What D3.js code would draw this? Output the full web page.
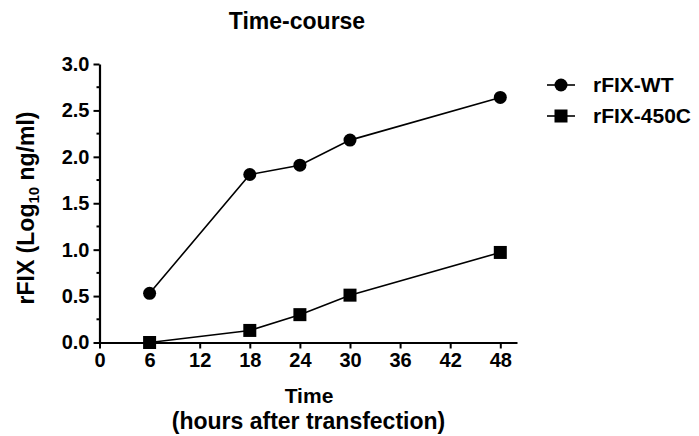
<!DOCTYPE html>
<html>
<head>
<meta charset="utf-8">
<script src="https://cdn.jsdelivr.net/npm/d3@7"></script>
<style>
  body { margin: 0; background: #fff; }
  svg { display: block; font-family: "Liberation Sans", Arial, sans-serif; font-weight: bold; }
</style>
</head>
<body>
<svg id="canvas" width="699" height="436"></svg>
<script>
const hours = [6, 18, 24, 30, 48]
const wt = [0.53, 1.81, 1.91, 2.18, 2.64]
const mut = [0.0, 0.13, 0.30, 0.51, 0.97]
const xTicks = [0, 6, 12, 18, 24, 30, 36, 42, 48]
const yTicks = [0, 0.5, 1.0, 1.5, 2.0, 2.5, 3.0]
const yMinor = [0.25, 0.75, 1.25, 1.75, 2.25, 2.75]
const seriesNames = ["rFIX-WT", "rFIX-450C"]

const svg = d3.select("#canvas")

const x = d3.scaleLinear().domain([0, 50]).range([99.5, 517])
const y = d3.scaleLinear().domain([0, 3]).range([342.5, 64])

// axes
const xAxis = svg.append("g")
  .attr("transform", "translate(0," + y(0) + ")")
  .call(d3.axisBottom(x).tickValues(xTicks).tickSize(6).tickPadding(4).tickSizeOuter(0))
xAxis.select(".domain").attr("stroke-width", 2.2)
xAxis.selectAll(".tick line").attr("stroke-width", 2)
xAxis.selectAll("text").attr("font-size", 20).attr("font-family", null).attr("fill", "#000")

const yAxis = svg.append("g")
  .attr("transform", "translate(" + x(0) + ",0)")
  .call(d3.axisLeft(y).tickValues(yTicks).tickFormat(d3.format(".1f")).tickSize(6).tickPadding(4).tickSizeOuter(0))
yAxis.select(".domain").attr("stroke-width", 2.2)
yAxis.selectAll(".tick line").attr("stroke-width", 2)
yAxis.selectAll("text").attr("font-size", 20).attr("font-family", null).attr("fill", "#000")

svg.append("g").selectAll("line")
  .data(yMinor).enter().append("line")
  .attr("x1", x(0) - 3).attr("x2", x(0))
  .attr("y1", d => y(d)).attr("y2", d => y(d))
  .attr("stroke", "#000").attr("stroke-width", 2)

// lines + markers
const line = d3.line().x((d, i) => x(hours[i])).y(d => y(d))

svg.append("path").datum(wt).attr("d", line)
  .attr("fill", "none").attr("stroke", "#000").attr("stroke-width", 1.6)
svg.append("path").datum(mut).attr("d", line)
  .attr("fill", "none").attr("stroke", "#000").attr("stroke-width", 1.6)

svg.append("g").selectAll("circle")
  .data(wt).enter().append("circle")
  .attr("cx", (d, i) => x(hours[i])).attr("cy", d => y(d)).attr("r", 6.5)

svg.append("g").selectAll("rect")
  .data(mut).enter().append("rect")
  .attr("x", (d, i) => x(hours[i]) - 6.5).attr("y", d => y(d) - 6.5)
  .attr("width", 13).attr("height", 13)

// title and axis labels
svg.append("text").attr("x", 297).attr("y", 29).attr("text-anchor", "middle")
  .attr("font-size", 23).text("Time-course")

svg.append("text").attr("x", 309).attr("y", 403).attr("text-anchor", "middle")
  .attr("font-size", 21).text("Time")
svg.append("text").attr("x", 308.5).attr("y", 429).attr("text-anchor", "middle")
  .attr("font-size", 23).text("(hours after transfection)")

const yl = svg.append("text").attr("transform", "translate(34,208) rotate(-90)")
  .attr("text-anchor", "middle").attr("font-size", 23)
yl.append("tspan").text("rFIX (Log")
yl.append("tspan").attr("font-size", 15).attr("dy", 5).text("10")
yl.append("tspan").attr("dy", -5).text(" ng/ml)")

// legend
const leg = svg.append("g").selectAll("g")
  .data(seriesNames).enter().append("g")
  .attr("transform", (d, i) => "translate(0," + (85 + i * 31) + ")")
leg.append("line").attr("x1", 547).attr("x2", 575)
  .attr("stroke", "#000").attr("stroke-width", 1.6)
leg.filter((d, i) => i === 0).append("circle").attr("cx", 561).attr("r", 6.5)
leg.filter((d, i) => i === 1).append("rect").attr("x", 554.5).attr("y", -6.5)
  .attr("width", 13).attr("height", 13)
leg.append("text").attr("x", 593).attr("dy", "0.35em").attr("font-size", 21).text(d => d)
</script>
</body>
</html>
